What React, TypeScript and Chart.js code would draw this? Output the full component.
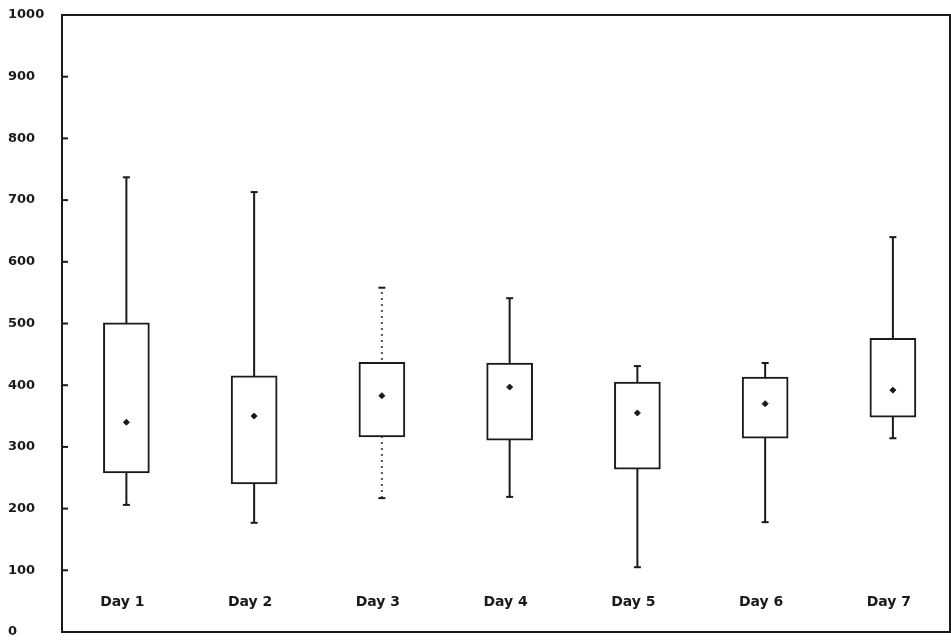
import React, { useEffect, useRef } from "react";
import { Chart, registerables } from "chart.js";

Chart.register(...registerables);

const days = ["Day 1", "Day 2", "Day 3", "Day 4", "Day 5", "Day 6", "Day 7"];
const whiskerLow = [206, 177, 217, 219, 105, 178, 314];
const q1 = [258, 240, 316, 311, 264, 314, 348];
const q3 = [501, 415, 437, 436, 405, 413, 476];
const whiskerHigh = [737, 713, 558, 541, 431, 436, 640];
const means = [340, 350, 383, 397, 355, 370, 392];
const yTicks = [0, 100, 200, 300, 400, 500, 600, 700, 800, 900, 1000];
const dottedDays = [3];

const INK = "#1a1a1a";
const FONT = "'DejaVu Sans', sans-serif";

export default function App() {
  const ref = useRef<HTMLCanvasElement | null>(null);

  useEffect(() => {
    document.body.style.margin = "0";
    const canvas = ref.current;
    if (!canvas) return;

    const whiskerData: any[] = [];
    days.forEach((_, i) => {
      whiskerData.push({ x: i + 1, y: whiskerLow[i] });
      whiskerData.push({ x: i + 1, y: whiskerHigh[i] });
      whiskerData.push({ x: i + 1, y: null });
    });
    const capData: any[] = [];
    days.forEach((_, i) => {
      capData.push({ x: i + 1, y: whiskerLow[i] });
      capData.push({ x: i + 1, y: whiskerHigh[i] });
    });

    const framePlugin = {
      id: "frame",
      afterDraw(chart: any) {
        const { ctx, chartArea } = chart;
        const y = chart.scales.y;
        const x = chart.scales.x;
        ctx.save();
        ctx.strokeStyle = INK;
        ctx.lineWidth = 2;
        ctx.strokeRect(chartArea.left, chartArea.top, chartArea.right - chartArea.left, chartArea.bottom - chartArea.top);
        yTicks.forEach((t) => {
          const py = y.getPixelForValue(t);
          ctx.beginPath();
          ctx.moveTo(chartArea.left, py);
          ctx.lineTo(chartArea.left + 6, py);
          ctx.stroke();
        });
        ctx.fillStyle = INK;
        ctx.font = `bold 14px ${FONT}`;
        ctx.textAlign = "center";
        ctx.textBaseline = "middle";
        days.forEach((d, i) => {
          ctx.fillText(d, x.getPixelForValue(i + 1) - 4, y.getPixelForValue(48));
        });
        ctx.restore();
      },
    };

    const chart = new Chart(canvas, {
      type: "bar",
      data: {
        datasets: [
          {
            type: "line",
            label: "whiskers",
            data: whiskerData,
            borderColor: INK,
            borderWidth: 2,
            pointRadius: 0,
            spanGaps: false,
            order: 3,
            segment: {
              borderDash: (c: any) => (dottedDays.includes(c.p0.parsed.x) ? [2, 4] : undefined),
              borderColor: (c: any) => (dottedDays.includes(c.p0.parsed.x) ? "#555" : undefined),
            },
          } as any,
          {
            type: "bar",
            label: "box",
            data: days.map((_, i) => ({ x: i + 1, y: [q1[i], q3[i]] })),
            backgroundColor: "#ffffff",
            borderColor: INK,
            borderWidth: 2,
            borderSkipped: false,
            barThickness: 46,
            order: 2,
          } as any,
          {
            type: "scatter",
            label: "caps",
            data: capData,
            pointStyle: "line",
            pointRadius: 3.5,
            borderColor: INK,
            borderWidth: 2,
            order: 1,
          } as any,
          {
            type: "scatter",
            label: "mean",
            data: days.map((_, i) => ({ x: i + 1, y: means[i] })),
            pointStyle: "rectRot",
            pointRadius: 3,
            backgroundColor: INK,
            borderColor: INK,
            borderWidth: 1,
            order: 0,
          } as any,
        ],
      },
      options: {
        animation: false,
        responsive: true,
        maintainAspectRatio: false,
        layout: { autoPadding: false, padding: { left: 8, top: 15, right: 1, bottom: 9 } },
        plugins: {
          legend: { display: false },
          tooltip: { enabled: false },
          title: { display: false },
        },
        scales: {
          x: {
            type: "linear",
            display: false,
            offset: false,
            min: 0.496,
            max: 7.447,
          },
          y: {
            type: "linear",
            min: 0,
            max: 1000,
            afterFit: (s: any) => {
              s.width = 54;
            },
            afterBuildTicks: (s: any) => {
              s.ticks = yTicks.map((v) => ({ value: v }));
            },
            grid: { display: false, drawTicks: false },
            border: { display: false },
            ticks: {
              crossAlign: "far",
              padding: 0,
              color: INK,
              font: { family: FONT, size: 13, weight: "bold" },
              callback: (v: any) => String(v),
            },
          },
        },
      },
      plugins: [framePlugin],
    } as any);

    return () => chart.destroy();
  }, []);

  return (
    <div style={{ width: 951, height: 641, position: "relative", background: "#fff" }}>
      <canvas ref={ref} />
    </div>
  );
}
